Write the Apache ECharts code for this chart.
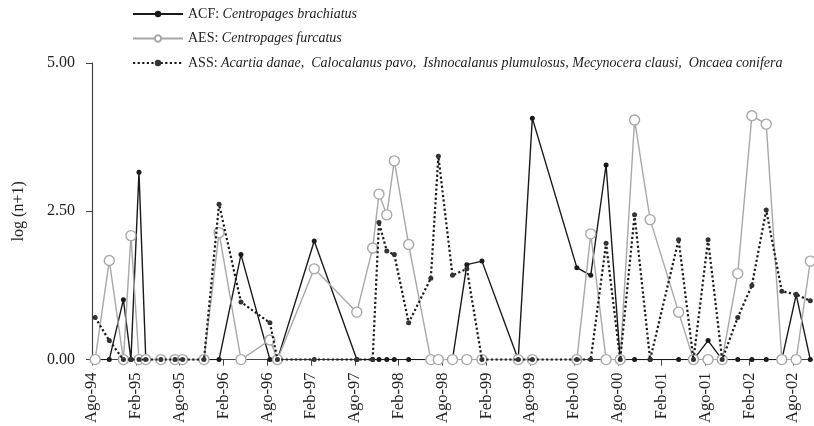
<!DOCTYPE html>
<html>
<head>
<meta charset="utf-8">
<script src="https://cdn.jsdelivr.net/npm/echarts@6/dist/echarts.min.js"></script>
<style>
html,body{margin:0;padding:0;background:#fff;}
#chart{width:814px;height:426px;}
</style>
</head>
<body>
<div id="chart"></div>
<script>
// Sampling dates
const sampleDates = ['1994-08-14','1994-10-12','1994-12-10','1995-01-11','1995-02-14','1995-03-12','1995-05-14','1995-07-12','1995-08-13','1995-11-11',
  '1996-01-13','1996-04-13','1996-08-12','1996-09-13','1997-02-14','1997-08-09','1997-10-14','1997-11-10','1997-12-12','1998-01-13',
  '1998-03-12','1998-06-13','1998-07-14','1998-09-12','1998-11-11','1999-01-13','1999-06-12','1999-08-10','2000-02-13','2000-04-10',
  '2000-06-13','2000-08-11','2000-10-10','2000-12-14','2001-04-11','2001-06-12','2001-08-12','2001-10-10','2001-12-14','2002-02-12',
  '2002-04-11','2002-06-15','2002-08-14','2002-10-12'];

// log(n+1) values
const acf = [0,0,1.01,0,3.16,0,0,0,0,0,
  0,1.77,0,0,2.00,0,0,0,0,0,
  0,0,0,0,1.60,1.66,0,4.07,1.55,1.42,
  3.28,0,0,0,0,0,0.32,0,0,0,
  0,0,1.09,0];
const aes = [0,1.67,0,2.09,0,0,0,0,0,0,
  2.14,0,0.33,0,1.53,0.80,1.88,2.79,2.44,3.35,
  1.94,0,0,0,0,0,0,0,0,2.12,
  0,0,4.04,2.36,0.80,0,0,0,1.45,4.11,
  3.97,0,0,1.66];
const ass = [0.71,0.32,0,0,0,0,0,0,0,0,
  2.62,0.97,0.62,0,0,0,0,2.31,1.83,1.77,
  0.62,1.37,3.43,1.42,1.53,0,0,0,0,0,
  1.96,0,2.44,0,2.02,0,2.02,0,0.71,1.25,
  2.52,1.15,1.10,0.99];

// Tick labels (every 6 months from Aug 1994)
const tickLabels = ['Ago-94','Feb-95','Ago-95','Feb-96','Ago-96','Feb-97','Ago-97','Feb-98','Ago-98',
  'Feb-99','Ago-99','Feb-00','Ago-00','Feb-01','Ago-01','Feb-02','Ago-02'];

const seriesNames = ['ACF','AES','ASS'];
const seriesSpecies = ['Centropages brachiatus','Centropages furcatus',
  'Acartia danae,  Calocalanus pavo,  Ishnocalanus plumulosus, Mecynocera clausi,  Oncaea conifera'];

function monthOffset(s){
  const p = s.split('-').map(Number);
  return (p[0]-1994)*12 + (p[1]-8) + (p[2]-1)/30;
}
const xs = sampleDates.map(monthOffset);
const pair = arr => arr.map((v,i)=>[xs[i], v]);
const tickValues = tickLabels.map((_,i)=>i*6);

const FONT = '"Liberation Serif", "Times New Roman", serif';
const chart = echarts.init(document.getElementById('chart'), null, {renderer:'canvas'});
chart.setOption({
  animation:false,
  backgroundColor:'#fff',
  grid:{left:92, right:2, top:63, bottom:66},
  legend:{
    orient:'vertical', left:127, top:2, itemWidth:50, itemHeight:8, itemGap:10.5,
    align:'left',
    data:seriesNames,
    formatter: name => '{n|' + name + ':} {i|' + seriesSpecies[seriesNames.indexOf(name)] + '}',
    textStyle:{
      fontFamily:FONT, fontSize:14, color:'#222',
      rich:{
        n:{fontFamily:FONT, fontSize:14, color:'#222', lineHeight:17},
        i:{fontFamily:FONT, fontSize:14, fontStyle:'italic', color:'#222', lineHeight:17}
      }
    }
  },
  xAxis:{
    type:'value', min:0, max:98.6,
    axisLine:{show:true, onZero:false, lineStyle:{color:'#444', width:1.2}},
    axisTick:{show:true, inside:false, length:6, customValues:tickValues, lineStyle:{color:'#444'}},
    axisLabel:{show:true, rotate:90, margin:13, customValues:tickValues,
      padding:[8,0,0,0],
      fontFamily:FONT, fontSize:16.5, color:'#222',
      formatter: v => tickLabels[Math.round(v/6)] || ''},
    splitLine:{show:false}
  },
  yAxis:{
    type:'value', min:0, max:5, interval:2.5,
    name:'log (n+1)', nameLocation:'middle', nameGap:65, nameRotate:90,
    nameTextStyle:{fontFamily:FONT, fontSize:16, color:'#222'},
    axisLine:{show:true, lineStyle:{color:'#444', width:1.2}},
    axisTick:{show:true, inside:false, length:6, lineStyle:{color:'#444'}},
    axisLabel:{margin:17, fontFamily:FONT, fontSize:16, color:'#222', formatter: v => v.toFixed(2)},
    splitLine:{show:false}
  },
  series:[
    {name:'ACF', type:'line', data:pair(acf), symbol:'circle', symbolSize:5, z:2,
      lineStyle:{color:'#1a1a1a', width:1.4},
      itemStyle:{color:'#1a1a1a', borderWidth:0}},
    {name:'AES', type:'line', data:pair(aes), symbol:'circle', symbolSize:10, z:3,
      lineStyle:{color:'#a8a8a8', width:1.4},
      itemStyle:{color:'#ffffff', borderColor:'#a8a8a8', borderWidth:1.4}},
    {name:'ASS', type:'line', data:pair(ass), symbol:'circle', symbolSize:5, z:4,
      lineStyle:{color:'#1a1a1a', width:2.2, type:[2.2,2.4]},
      itemStyle:{color:'#333333', borderWidth:0}}
  ]
});
</script>
</body>
</html>
